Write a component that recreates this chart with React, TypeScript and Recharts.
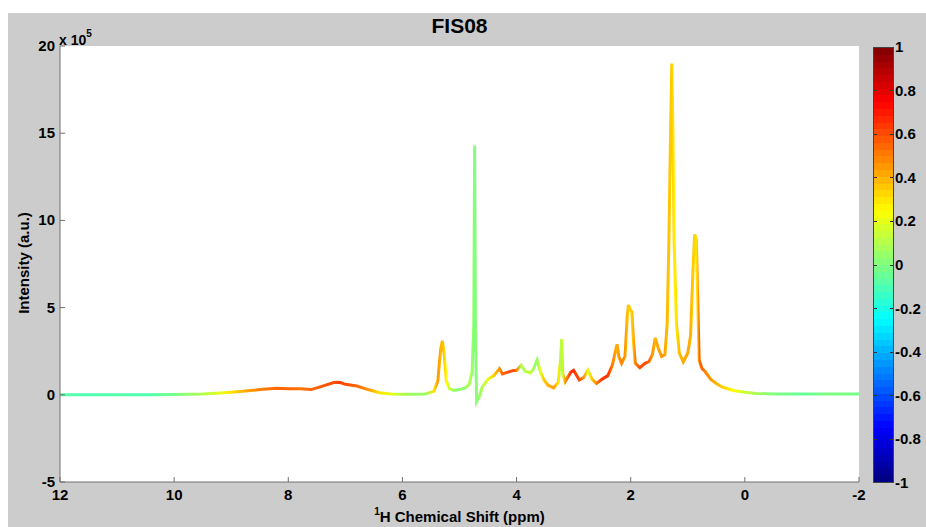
import React from 'react';
import { LineChart, Line, XAxis, YAxis, CartesianGrid } from 'recharts';

// chemical shift (ppm)
const ppm = [
  12.0, 11.5, 11.0, 10.5, 10.0, 9.5, 9.2, 9.0, 8.8, 8.5, 8.2, 8.0, 7.8, 7.6, 7.4, 7.2, 7.1, 7.0, 6.8, 6.6,
  6.4, 6.2, 6.0, 5.8, 5.6, 5.45, 5.38, 5.33, 5.30, 5.27, 5.23, 5.18, 5.1, 5.0, 4.9, 4.83, 4.78, 4.75, 4.735, 4.72,
  4.70, 4.65, 4.6, 4.5, 4.4, 4.3, 4.25, 4.15, 4.05, 4.0, 3.92, 3.85, 3.76, 3.70, 3.64, 3.58, 3.52, 3.45, 3.35, 3.27,
  3.23, 3.21, 3.19, 3.15, 3.05, 3.0, 2.9, 2.82, 2.75, 2.68, 2.6, 2.5, 2.4, 2.32, 2.26, 2.24, 2.21, 2.16, 2.10, 2.06,
  2.04, 2.01, 1.98, 1.95, 1.92, 1.84, 1.75, 1.68, 1.62, 1.57, 1.52, 1.46, 1.40, 1.36, 1.33, 1.30, 1.28, 1.26, 1.24, 1.20,
  1.15, 1.08, 1.0, 0.95, 0.91, 0.88, 0.85, 0.83, 0.80, 0.75, 0.70, 0.60, 0.50, 0.40, 0.30, 0.2, 0.0, -0.2, -0.5, -1.0,
  -1.5, -2.0,
];
// intensity (x 10^5 a.u.)
const intensity = [
  0.0, 0.0, 0.0, 0.0, 0.02, 0.05, 0.1, 0.15, 0.2, 0.3, 0.38, 0.35, 0.35, 0.3, 0.5, 0.7, 0.72, 0.6, 0.5, 0.3,
  0.12, 0.05, 0.03, 0.03, 0.05, 0.2, 0.8, 2.6, 3.1, 2.4, 0.8, 0.35, 0.25, 0.3, 0.4, 0.6, 1.3, 4.0, 14.3, 4.0,
  -0.4, -0.1, 0.45, 0.9, 1.1, 1.5, 1.2, 1.3, 1.4, 1.4, 1.7, 1.35, 1.25, 1.5, 2.0, 1.3, 0.85, 0.55, 0.4, 0.7,
  2.0, 3.2, 1.2, 0.75, 1.3, 1.4, 0.85, 1.0, 1.42, 0.9, 0.65, 0.9, 1.1, 1.7, 2.6, 2.9, 2.2, 1.8, 2.2, 4.5,
  5.15, 4.9, 4.75, 3.0, 1.8, 1.55, 1.8, 1.9, 2.3, 3.26, 2.7, 2.2, 2.3, 4.1, 8.9, 15.5, 19.0, 15.0, 8.9, 4.1,
  2.4, 1.88, 2.4, 3.4, 7.0, 9.2, 8.9, 6.0, 2.0, 1.5, 1.35, 0.9, 0.65, 0.45, 0.35, 0.25, 0.15, 0.08, 0.05, 0.05,
  0.05, 0.05,
];
// correlation coefficient (colour)
const corr = [
  -0.08, -0.1, -0.08, -0.1, -0.02, 0.1, 0.2, 0.3, 0.4, 0.5, 0.55, 0.55, 0.52, 0.55, 0.58, 0.6, 0.62, 0.6, 0.55, 0.45,
  0.3, 0.2, 0.1, 0.05, 0.05, 0.3, 0.45, 0.4, 0.38, 0.35, 0.25, 0.15, 0.05, 0.02, 0.05, 0.1, 0.05, 0.0, 0.0, 0.0,
  0.02, 0.05, 0.1, 0.2, 0.35, 0.45, 0.55, 0.6, 0.6, 0.5, 0.1, 0.1, 0.15, 0.05, 0.05, 0.2, 0.35, 0.4, 0.45, 0.3,
  0.1, 0.05, 0.2, 0.45, 0.65, 0.65, 0.6, 0.45, 0.2, 0.35, 0.5, 0.65, 0.65, 0.5, 0.42, 0.4, 0.45, 0.5, 0.45, 0.38,
  0.35, 0.35, 0.35, 0.4, 0.5, 0.6, 0.6, 0.55, 0.45, 0.4, 0.42, 0.45, 0.42, 0.38, 0.36, 0.35, 0.35, 0.32, 0.28, 0.3,
  0.38, 0.42, 0.42, 0.4, 0.35, 0.33, 0.3, 0.35, 0.55, 0.55, 0.5, 0.45, 0.4, 0.35, 0.3, 0.25, 0.15, 0.08, 0.0, -0.05,
  0.0, -0.02,
];

const xTicks = [12, 10, 8, 6, 4, 2, 0, -2];
const yTicks = [-5, 0, 5, 10, 15, 20];
const cbTicks = [1, 0.8, 0.6, 0.4, 0.2, 0, -0.2, -0.4, -0.6, -0.8, -1];

const data = ppm.map((p, i) => ({ ppm: p, y: intensity[i] }));

const jet = (c: number) => {
  const t = (c + 1) / 2;
  const f = (v: number) => Math.round(255 * Math.max(0, Math.min(1, 1.5 - Math.abs(v))));
  return `rgb(${f(4 * t - 3)},${f(4 * t - 2)},${f(4 * t - 1)})`;
};

const FONT = '"Liberation Sans", Arial, sans-serif';
const AX = '#707070';

const XTick = (props: any) => {
  const { x, y, payload } = props;
  return (
    <g>
      <line x1={x} y1={y} x2={x} y2={y - 5} stroke={AX} strokeWidth={1} />
      <text x={x} y={y + 18} textAnchor="middle" fontFamily={FONT} fontWeight="bold" fontSize={15} fill="#000">
        {payload.value}
      </text>
    </g>
  );
};

const YTick = (props: any) => {
  const { x, y, payload } = props;
  return (
    <g>
      <line x1={x} y1={y} x2={x + 5} y2={y} stroke={AX} strokeWidth={1} />
      <text x={x - 5} y={y + 5} textAnchor="end" fontFamily={FONT} fontWeight="bold" fontSize={15} fill="#000">
        {payload.value}
      </text>
    </g>
  );
};

export default function App() {
  const W = 918;
  const H = 514;
  const plotL = 52, plotT = 33, plotW = 799, plotH = 436;
  const cbL = 865, cbT = 34, cbW = 21, cbH = 436;

  const bands: string[] = [];
  for (let i = 0; i < 64; i++) {
    const c = ((i + 0.5) / 64) * 2 - 1;
    const col = jet(c);
    bands.push(`${col} ${(i / 64) * 100}%`, `${col} ${((i + 1) / 64) * 100}%`);
  }

  return (
    <div style={{ position: 'absolute', left: 8, top: 13, width: W, height: H, background: '#cccccc', fontFamily: FONT }}>
      <LineChart
        width={W}
        height={H}
        data={data}
        margin={{ top: plotT, right: W - plotL - plotW, bottom: 0, left: 0 }}
      >
        <defs>
          <linearGradient id="corrGrad" x1="0" y1="0" x2="1" y2="0">
            {ppm.map((p, i) => (
              <stop key={i} offset={(12 - p) / 14} stopColor={jet(corr[i])} />
            ))}
          </linearGradient>
        </defs>
        <CartesianGrid horizontal={false} vertical={false} fill="#ffffff" stroke="none" />
        <XAxis
          dataKey="ppm"
          type="number"
          domain={[-2, 12]}
          reversed
          ticks={xTicks}
          interval={0}
          height={H - plotT - plotH}
          tickSize={0}
          tickMargin={0}
          tickLine={false}
          axisLine={{ stroke: AX, strokeWidth: 1 }}
          tick={<XTick />}
          allowDataOverflow
        />
        <YAxis
          type="number"
          domain={[-5, 20]}
          ticks={yTicks}
          interval={0}
          width={plotL}
          tickSize={0}
          tickMargin={0}
          tickLine={false}
          axisLine={{ stroke: AX, strokeWidth: 1 }}
          tick={<YTick />}
          allowDataOverflow
        />
        <Line
          type="linear"
          dataKey="y"
          stroke="url(#corrGrad)"
          strokeWidth={3}
          dot={false}
          activeDot={false}
          isAnimationActive={false}
        />
      </LineChart>

      {/* title */}
      <div style={{ position: 'absolute', left: plotL, width: plotW, top: 1, textAlign: 'center', fontWeight: 'bold', fontSize: 21, color: '#000' }}>
        FIS08
      </div>
      {/* exponent */}
      <div style={{ position: 'absolute', left: 51, top: 17, fontWeight: 'bold', fontSize: 14, color: '#000', whiteSpace: 'nowrap' }}>
        x 10<sup style={{ fontSize: 10, position: 'relative', top: -2 }}>5</sup>
      </div>
      {/* y label */}
      <div
        style={{
          position: 'absolute', left: 15, top: 250, width: 0, height: 0,
        }}
      >
        <div style={{ position: 'absolute', transform: 'translate(-50%, -50%) rotate(-90deg)', whiteSpace: 'nowrap', fontWeight: 'bold', fontSize: 15, color: '#000' }}>
          Intensity (a.u.)
        </div>
      </div>
      {/* x label */}
      <div style={{ position: 'absolute', left: plotL, width: plotW, top: 494, textAlign: 'center', fontWeight: 'bold', fontSize: 15, color: '#000', whiteSpace: 'nowrap' }}>
        <sup style={{ fontSize: 10, position: 'relative', top: -1 }}>1</sup>H Chemical Shift (ppm)
      </div>

      {/* colorbar */}
      <div
        style={{
          position: 'absolute', left: cbL, top: cbT, width: cbW, height: cbH, boxSizing: 'border-box',
          border: '1px solid #444', background: `linear-gradient(to top, ${bands.join(', ')})`,
        }}
      />
      {cbTicks.map((v) => {
        const ty = cbT + ((1 - v) / 2) * cbH;
        return (
          <React.Fragment key={v}>
            {v !== 1 && v !== -1 && (
              <>
                <div style={{ position: 'absolute', left: cbL + 1, top: ty - 0.5, width: 3, height: 1, background: '#333' }} />
                <div style={{ position: 'absolute', left: cbL + cbW - 4, top: ty - 0.5, width: 3, height: 1, background: '#333' }} />
              </>
            )}
            <div style={{ position: 'absolute', left: cbL + cbW + 1, top: ty - 9, fontWeight: 'bold', fontSize: 15, color: '#000', lineHeight: '18px' }}>
              {v}
            </div>
          </React.Fragment>
        );
      })}
    </div>
  );
}
